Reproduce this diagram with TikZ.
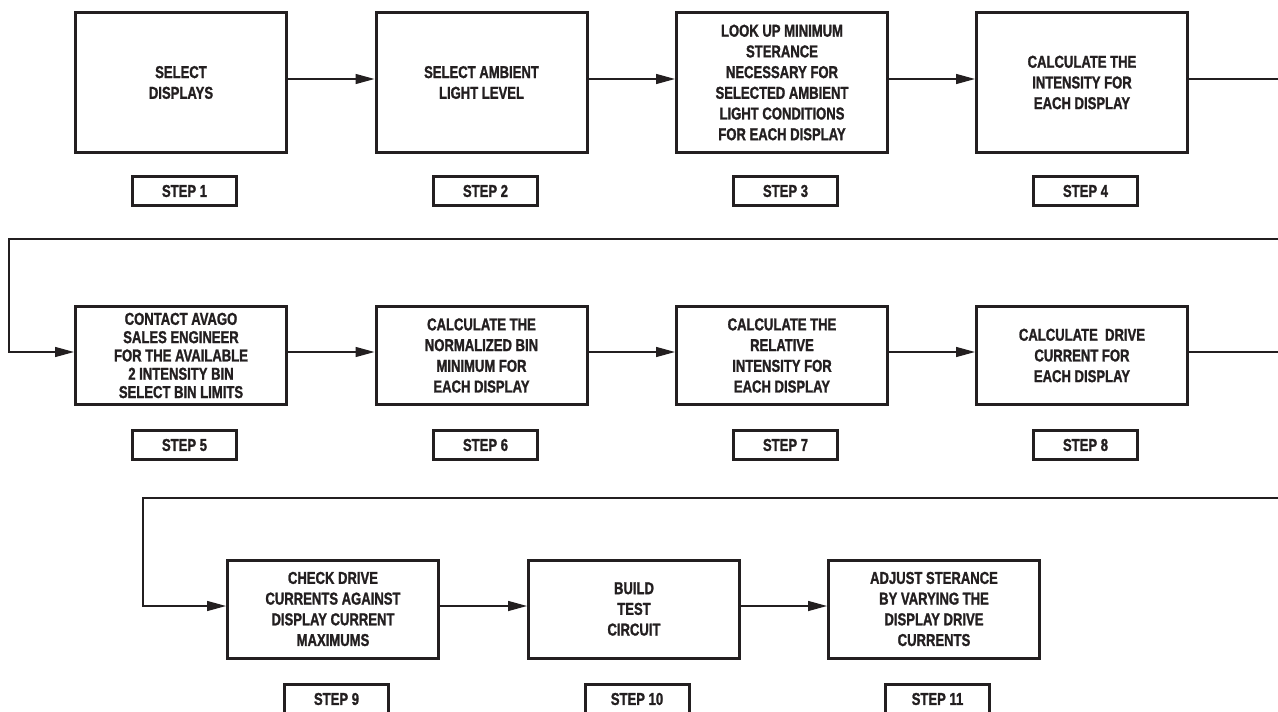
\documentclass[tikz,border=0pt]{standalone}
\usepackage{fontspec}
\setmainfont{Liberation Sans}[FakeStretch=0.76, BoldFeatures={FakeBold=1.3}]
\usetikzlibrary{arrows.meta}
\definecolor{ink}{HTML}{231F20}
\begin{document}
\begin{tikzpicture}[x=1pt,y=-1pt,
  box/.style={draw=ink, line width=3pt, minimum width=211pt, align=center, inner sep=0pt,
    font=\fontsize{17.2}{20.7}\selectfont\bfseries, text=ink},
  tall/.style={box, minimum height=140pt},
  short/.style={box, minimum height=98pt},
  stepbox/.style={draw=ink, line width=3pt, minimum width=104pt, minimum height=29pt, inner sep=0pt,
    font=\fontsize{17.2}{20}\selectfont\bfseries, text=ink},
  link/.style={draw=ink, line width=1.4pt},
  arr/.style={link, -{Triangle[length=19pt,width=10pt]}}]
\useasboundingbox (0,0) rectangle (1278,712);
% row 1
\node[tall] (b1) at (181,82.5) {SELECT\\DISPLAYS};
\node[tall] (b2) at (481.5,82.5) {SELECT AMBIENT\\LIGHT LEVEL};
\node[tall] (b3) at (782,82.5) {LOOK UP MINIMUM\\STERANCE\\NECESSARY FOR\\SELECTED AMBIENT\\LIGHT CONDITIONS\\FOR EACH DISPLAY};
\node[tall] (b4) at (1082,82.5) {CALCULATE THE\\INTENSITY FOR\\EACH DISPLAY};
\node[stepbox] (s1) at (184.5,191) {STEP 1};
\node[stepbox] (s2) at (485.5,191) {STEP 2};
\node[stepbox] (s3) at (785.5,191) {STEP 3};
\node[stepbox] (s4) at (1085.5,191) {STEP 4};
% row 2
\node[short, font=\fontsize{17.2}{18.3}\selectfont\bfseries] (b5) at (181,355.5) {CONTACT AVAGO\\SALES ENGINEER\\FOR THE AVAILABLE\\2 INTENSITY BIN\\SELECT BIN LIMITS};
\node[short] (b6) at (481.5,355.5) {CALCULATE THE\\NORMALIZED BIN\\MINIMUM FOR\\EACH DISPLAY};
\node[short] (b7) at (782,355.5) {CALCULATE THE\\RELATIVE\\INTENSITY FOR\\EACH DISPLAY};
\node[short] (b8) at (1082,355.5) {CALCULATE\ \ DRIVE\\CURRENT FOR\\EACH DISPLAY};
\node[stepbox] (s5) at (184.5,445) {STEP 5};
\node[stepbox] (s6) at (485.5,445) {STEP 6};
\node[stepbox] (s7) at (785.5,445) {STEP 7};
\node[stepbox] (s8) at (1085.5,445) {STEP 8};
% row 3
\node[short] (b9) at (333,609) {CHECK DRIVE\\CURRENTS AGAINST\\DISPLAY CURRENT\\MAXIMUMS};
\node[short] (b10) at (634,609) {BUILD\\TEST\\CIRCUIT};
\node[short] (b11) at (934,609) {ADJUST STERANCE\\BY VARYING THE\\DISPLAY DRIVE\\CURRENTS};
\node[stepbox] (s9) at (336.5,699) {STEP 9};
\node[stepbox] (s10) at (637,699) {STEP 10};
\node[stepbox] (s11) at (937.5,699) {STEP 11};
% coordinates for the open right-hand ends and bends
\coordinate (r1) at (1278,79);
\coordinate (r2a) at (1278,239);
\coordinate (k1) at (9,239);
\coordinate (k2) at (9,352);
\coordinate (r2b) at (1278,352);
\coordinate (r3a) at (1278,498);
\coordinate (k3) at (143,498);
\coordinate (k4) at (143,606);
% connectors row 1
\draw[arr] ([yshift=3.5pt]b1.east) -- ([yshift=3.5pt]b2.west);
\draw[arr] ([yshift=3.5pt]b2.east) -- ([yshift=3.5pt]b3.west);
\draw[arr] ([yshift=3.5pt]b3.east) -- ([yshift=3.5pt]b4.west);
\draw[link] ([yshift=3.5pt]b4.east) -- (r1);
% row 2
\draw[arr] (r2a) -- (k1) -- (k2) -- (k2 -| b5.west);
\draw[arr] ([yshift=3.5pt]b5.east) -- ([yshift=3.5pt]b6.west);
\draw[arr] ([yshift=3.5pt]b6.east) -- ([yshift=3.5pt]b7.west);
\draw[arr] ([yshift=3.5pt]b7.east) -- ([yshift=3.5pt]b8.west);
\draw[link] ([yshift=3.5pt]b8.east) -- (r2b);
% row 3
\draw[arr] (r3a) -- (k3) -- (k4) -- (k4 -| b9.west);
\draw[arr] ([yshift=3pt]b9.east) -- ([yshift=3pt]b10.west);
\draw[arr] ([yshift=3pt]b10.east) -- ([yshift=3pt]b11.west);
\end{tikzpicture}
\end{document}
